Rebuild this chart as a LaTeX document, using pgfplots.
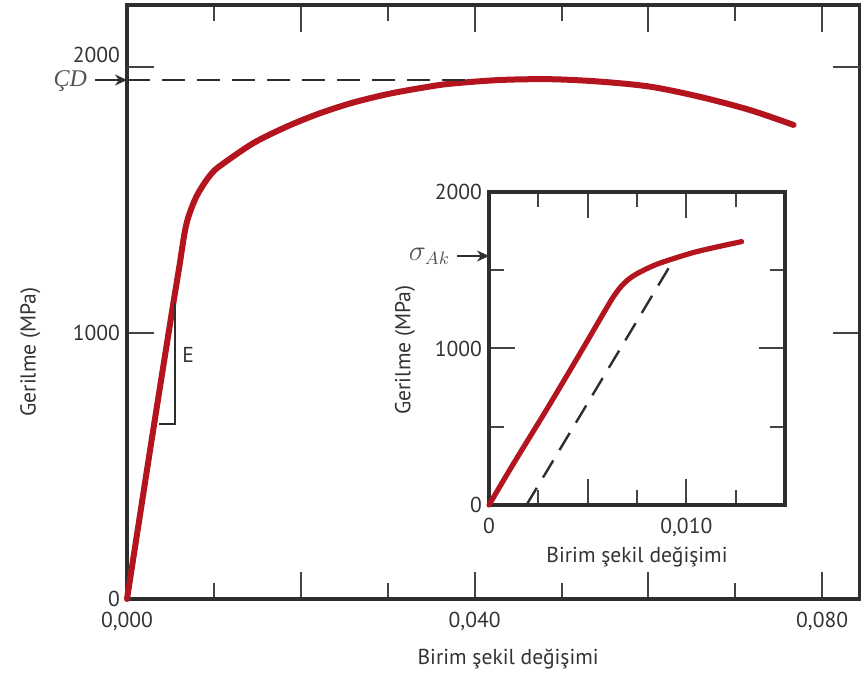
\documentclass[border=0pt]{standalone}
\usepackage{fontspec}
\setmainfont{PT Sans}
\newfontfamily\lserif{Liberation Serif}
\usepackage{pgfplots}
\pgfplotsset{compat=1.18}
\usetikzlibrary{arrows.meta}
\definecolor{curvered}{HTML}{B3141E}
\definecolor{framegray}{HTML}{2E2E2E}
\definecolor{tickgray}{HTML}{444444}
\definecolor{textgray}{HTML}{333333}
\definecolor{notegray}{HTML}{555555}

\pgfplotsset{
  stressbox/.style={
    scale only axis, anchor=south west, clip=false,
    scaled x ticks=false, scaled y ticks=false,
    axis line style={line width=1.6pt, color=framegray},
    tick align=inside,
    tick style={line width=1pt, color=tickgray},
    tick label style={font=\fontsize{10.8}{13}\selectfont, text=textgray},
    xticklabel style={yshift=-3pt},
    label style={font=\fontsize{10.8}{13}\selectfont, text=textgray},
  },
}

\begin{document}
\begin{tikzpicture}
% main chart
\begin{axis}[stressbox,
  at={(63.5pt,40pt)}, width=366.5pt, height=297pt,
  xmin=0, xmax=0.08435, ymin=0, ymax=2233,
  xtick={0,0.02,0.04,0.06,0.08},
  xticklabels={{0,000},{},{0,040},{},{0,080}},
  minor xtick={0.01,0.03,0.05,0.07},
  ytick={0,1000}, yticklabels={0,1000},
  extra y ticks={2000}, extra y tick labels={2000},
  extra y tick style={yticklabel style={yshift=6pt}},
  major tick length=13.5pt, minor tick length=8pt,
  xlabel={Birim şekil değişimi}, ylabel={Gerilme (MPa)},
  x label style={at={(axis description cs:0.52,-0.101)}, anchor=center},
  y label style={at={(axis description cs:-0.132,0.416)}, anchor=center},
]
\addplot[curvered, line width=3pt, line cap=round, smooth] coordinates {
  (0,0) (0.0028,590) (0.0052,1085) (0.0060,1245) (0.0068,1405)
  (0.0078,1500) (0.0088,1558) (0.0097,1598) (0.0107,1628)
  (0.0145,1713) (0.0184,1776) (0.0222,1826) (0.0260,1866)
  (0.0300,1898) (0.0340,1922) (0.0372,1937) (0.0429,1951)
  (0.0487,1954) (0.0544,1945) (0.0602,1926) (0.0659,1888)
  (0.0717,1838) (0.0767,1782)};
\addplot[framegray, line width=1.2pt, dash pattern=on 11.5pt off 6pt] coordinates {
  (0,1951) (0.0396,1951)};
% modulus triangle
\draw[framegray, line width=0.75pt] (axis cs:0.00368,658) -- (axis cs:0.00552,658)
  -- (axis cs:0.00552,1113);
\node[font=\fontsize{10.8}{13}\selectfont, text=textgray] at (axis cs:0.00705,917) {E};
% ultimate strength marker
\draw[-{Stealth[length=6pt,width=5.5pt]}, framegray, line width=1pt]
  ([xshift=-16pt]axis cs:0,1951) -- (axis cs:0,1951);
\node[anchor=east, font=\lserif\itshape\fontsize{12}{14}\selectfont, text=notegray]
  at ([xshift=-16.5pt,yshift=-0.5pt]axis cs:0,1951) {ÇD};
\end{axis}

% inset: yield region
\begin{axis}[stressbox,
  at={(244.5pt,87pt)}, width=148pt, height=156.5pt,
  axis background/.style={fill=white},
  xmin=0, xmax=0.015, ymin=0, ymax=2000,
  xtick={0,0.005,0.01,0.015}, xticklabels={0,{},{0,010},{}},
  minor xtick={0.0025,0.0075,0.0125},
  ytick={0,1000,2000}, yticklabels={0,1000,2000},
  minor ytick={500,1500},
  major tick length=13pt, minor tick length=7.5pt,
  xlabel={Birim şekil değişimi}, ylabel={Gerilme (MPa)},
  x label style={at={(axis description cs:0.5,-0.166)}, anchor=center},
  y label style={at={(axis description cs:-0.284,0.495)}, anchor=center},
]
\addplot[curvered, line width=2.6pt, line cap=round, smooth] coordinates {
  (0,0) (0.00123,262) (0.00292,610) (0.00461,968) (0.00580,1225)
  (0.00625,1320) (0.00665,1390) (0.00705,1440) (0.00750,1478)
  (0.00820,1522) (0.00883,1553) (0.01053,1619) (0.01280,1683)};
\addplot[framegray, line width=1.2pt, dash pattern=on 10pt off 6pt] coordinates {
  (0.0019,0) (0.0094,1576)};
\draw[-{Stealth[length=6pt,width=5.5pt]}, framegray, line width=1pt]
  ([xshift=-16pt]axis cs:0,1591) -- (axis cs:0,1591);
\node[anchor=east, text=notegray, font=\fontsize{13.5}{15}\selectfont]
  at ([xshift=-16pt]axis cs:0,1591) {$\sigma_{Ak}$};
\end{axis}

\pgfresetboundingbox
\path[use as bounding box] (0,0) rectangle (430.5pt,339.5pt);
\end{tikzpicture}
\end{document}
